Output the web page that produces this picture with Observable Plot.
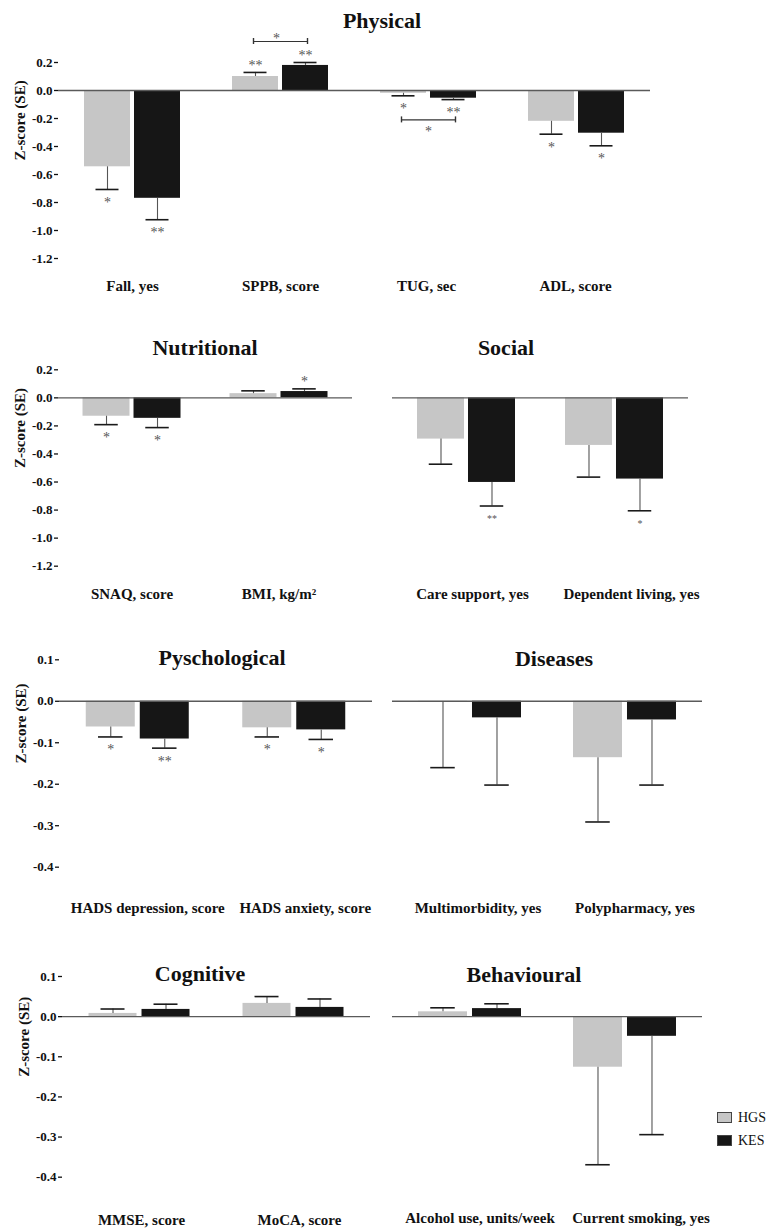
<!DOCTYPE html>
<html>
<head>
<meta charset="utf-8">
<script src="https://cdn.jsdelivr.net/npm/d3@7"></script>
<script src="https://cdn.jsdelivr.net/npm/@observablehq/plot@0.6"></script>
<style>
  body { margin: 0; background: #fff; }
  #root { position: relative; width: 768px; height: 1230px; overflow: hidden;
          font-family: "Liberation Serif", "Times New Roman", serif; color: #111; }
  #root svg { position: absolute; left: 0; }
  #root svg text { font-family: "Liberation Serif", "Times New Roman", serif; }
  .title { position: absolute; font-weight: bold; font-size: 22px; line-height: 22px;
           transform: translate(-50%, -50%); white-space: nowrap; }
  .lg-box { position: absolute; width: 15px; height: 11px; box-sizing: border-box; border: 1px solid #444; }
  .lg-text { position: absolute; font-size: 14px; line-height: 14px; transform: translateY(-50%); white-space: nowrap; }
</style>
</head>
<body>
<div id="root"></div>
<script>
// ---------------- DATA ----------------
const series = ["HGS", "KES"];
const seriesColors = ["#c6c6c6", "#161616"];

const ticksLarge = [-1.2, -1.0, -0.8, -0.6, -0.4, -0.2, 0.0, 0.2];
const ticksSmall = [-0.4, -0.3, -0.2, -0.1, 0.0, 0.1];

// Physical
const physicalCategories = ["Fall, yes", "SPPB, score", "TUG, sec", "ADL, score"];
const physicalHGS   = [-0.545, 0.100, -0.020, -0.220];
const physicalHGSse = [0.162, 0.029, 0.018, 0.092];
const physicalKES   = [-0.770, 0.179, -0.055, -0.305];
const physicalKESse = [0.153, 0.021, 0.010, 0.090];
const physicalHGSsig = ["*", "**", "*", "*"];
const physicalKESsig = ["**", "**", "**", "*"];
const physicalBracketCats = ["SPPB, score", "TUG, sec"];
const physicalBracketY = [0.35, -0.21];
const physicalBracketLabels = ["*", "*"];

// Nutritional
const nutritionalCategories = ["SNAQ, score", "BMI, kg/m\u00B2"];
const nutritionalHGS   = [-0.131, 0.030];
const nutritionalHGSse = [0.060, 0.020];
const nutritionalKES   = [-0.146, 0.045];
const nutritionalKESse = [0.066, 0.019];
const nutritionalHGSsig = ["*", ""];
const nutritionalKESsig = ["*", "*"];

// Social
const socialCategories = ["Care support, yes", "Dependent living, yes"];
const socialHGS   = [-0.294, -0.339];
const socialHGSse = [0.179, 0.226];
const socialKES   = [-0.603, -0.579];
const socialKESse = [0.168, 0.226];
const socialHGSsig = ["", ""];
const socialKESsig = ["**", "*"];

// Pyschological
const psychCategories = ["HADS depression, score", "HADS anxiety, score"];
const psychHGS   = [-0.062, -0.064];
const psychHGSse = [0.024, 0.022];
const psychKES   = [-0.091, -0.069];
const psychKESse = [0.022, 0.023];
const psychHGSsig = ["*", "*"];
const psychKESsig = ["**", "*"];

// Diseases
const diseaseCategories = ["Multimorbidity, yes", "Polypharmacy, yes"];
const diseaseHGS   = [-0.002, -0.136];
const diseaseHGSse = [0.158, 0.155];
const diseaseKES   = [-0.040, -0.045];
const diseaseKESse = [0.162, 0.157];

// Cognitive
const cognitiveCategories = ["MMSE, score", "MoCA, score"];
const cognitiveHGS   = [0.008, 0.033];
const cognitiveHGSse = [0.011, 0.017];
const cognitiveKES   = [0.018, 0.023];
const cognitiveKESse = [0.013, 0.021];

// Behavioural
const behaviouralCategories = ["Alcohol use, units/week", "Current smoking, yes"];
const behaviouralHGS   = [0.012, -0.126];
const behaviouralHGSse = [0.010, 0.243];
const behaviouralKES   = [0.020, -0.049];
const behaviouralKESse = [0.012, 0.245];

// ---------------- LAYOUT ----------------
const panels = [
  {title: "Physical", tx: 382, ty: 21, svgTop: 0, fTop: 62, fBot: 258, left: 58, right: 650, bar: 46, gap: 4,
   axis: true, xPad: 22, labelDx: [0, 0, -2, -1], domain: [-1.2, 0.2], ticks: ticksLarge, sigSize: 14,
   cats: physicalCategories, hgs: physicalHGS, hgsSE: physicalHGSse, kes: physicalKES, kesSE: physicalKESse,
   hgsSig: physicalHGSsig, kesSig: physicalKESsig,
   brackets: {cats: physicalBracketCats, y: physicalBracketY, labels: physicalBracketLabels}},
  {title: "Nutritional", tx: 205, ty: 348, svgTop: 320, fTop: 369.3, fBot: 565.7, left: 58, right: 352, bar: 47, gap: 4,
   axis: true, xPad: 22, labelDx: [0, 0], domain: [-1.2, 0.2], ticks: ticksLarge, sigSize: 14,
   cats: nutritionalCategories, hgs: nutritionalHGS, hgsSE: nutritionalHGSse, kes: nutritionalKES, kesSE: nutritionalKESse,
   hgsSig: nutritionalHGSsig, kesSig: nutritionalKESsig},
  {title: "Social", tx: 506, ty: 348, svgTop: 320, fTop: 369.3, fBot: 565.7, left: 392, right: 688, bar: 47, gap: 4,
   axis: false, xPad: 22, labelDx: [6, 17], domain: [-1.2, 0.2], ticks: ticksLarge, sigSize: 10,
   cats: socialCategories, hgs: socialHGS, hgsSE: socialHGSse, kes: socialKES, kesSE: socialKESse,
   hgsSig: socialHGSsig, kesSig: socialKESsig},
  {title: "Pyschological", tx: 222, ty: 658, svgTop: 630, fTop: 659.3, fBot: 866.7, left: 59, right: 372, bar: 49, gap: 5,
   axis: true, xPad: 35, labelDx: [10, 11], domain: [-0.4, 0.1], ticks: ticksSmall, sigSize: 14,
   cats: psychCategories, hgs: psychHGS, hgsSE: psychHGSse, kes: psychKES, kesSE: psychKESse,
   hgsSig: psychHGSsig, kesSig: psychKESsig},
  {title: "Diseases", tx: 554, ty: 659, svgTop: 630, fTop: 659.3, fBot: 866.7, left: 392, right: 702, bar: 49, gap: 5,
   axis: false, xPad: 35, labelDx: [8, 10], domain: [-0.4, 0.1], ticks: ticksSmall, sigSize: 14,
   cats: diseaseCategories, hgs: diseaseHGS, hgsSE: diseaseHGSse, kes: diseaseKES, kesSE: diseaseKESse},
  {title: "Cognitive", tx: 200, ty: 974, svgTop: 935, fTop: 976, fBot: 1176.7, left: 62, right: 370, bar: 48, gap: 5,
   axis: true, xPad: 37, labelDx: [2, 6], domain: [-0.4, 0.1], ticks: ticksSmall, sigSize: 14,
   cats: cognitiveCategories, hgs: cognitiveHGS, hgsSE: cognitiveHGSse, kes: cognitiveKES, kesSE: cognitiveKESse},
  {title: "Behavioural", tx: 524, ty: 975, svgTop: 935, fTop: 976, fBot: 1176.7, left: 392, right: 702, bar: 49, gap: 5,
   axis: false, xPad: 35, labelDx: [10, 16], domain: [-0.4, 0.1], ticks: ticksSmall, sigSize: 14,
   cats: behaviouralCategories, hgs: behaviouralHGS, hgsSE: behaviouralHGSse, kes: behaviouralKES, kesSE: behaviouralKESse}
];

const W = 768;
const FONT = '"Liberation Serif", "Times New Roman", serif';
const root = document.getElementById("root");

function buildRows(p) {
  const out = [];
  p.cats.forEach((c, i) => {
    out.push({cat: c, series: "HGS", value: p.hgs[i], se: p.hgsSE[i], sig: p.hgsSig ? p.hgsSig[i] : ""});
    out.push({cat: c, series: "KES", value: p.kes[i], se: p.kesSE[i], sig: p.kesSig ? p.kesSig[i] : ""});
  });
  out.forEach(d => { d.end = d.value + (d.value < 0 ? -1 : 1) * d.se; });
  return out;
}

function drawPanel(p) {
  const data = buildRows(p);
  const step = (p.right - p.left) / p.cats.length;
  const off = p.gap / 2 + p.bar / 2;
  const capW = p.bar * 0.5;
  const marginBottom = 52;
  const height = p.fBot - p.svgTop + marginBottom;
  const pxPerUnit = (p.fBot - p.fTop) / (p.domain[1] - p.domain[0]);
  const marks = [];

  series.forEach((s, k) => {
    const dx = (k === 0 ? -1 : 1) * off;
    const sub = data.filter(d => d.series === s);
    marks.push(Plot.barY(sub, {
      x: "cat", y: "value", fill: seriesColors[k],
      insetLeft: step / 2 + dx - p.bar / 2, insetRight: step / 2 - dx - p.bar / 2
    }));
  });
  marks.push(Plot.ruleY([0], {stroke: "#5a5a5a", strokeWidth: 1.4}));
  series.forEach((s, k) => {
    const dx = (k === 0 ? -1 : 1) * off;
    const sub = data.filter(d => d.series === s);
    marks.push(Plot.ruleX(sub, {x: "cat", y1: "value", y2: "end", dx, stroke: "#555", strokeWidth: 1.1}));
    marks.push(Plot.ruleY(sub, {
      x1: "cat", x2: "cat", y: "end", stroke: "#1a1a1a", strokeWidth: 1.6,
      insetLeft: step / 2 + dx - capW / 2, insetRight: step / 2 - dx - capW / 2
    }));
    const sigs = sub.filter(d => d.sig);
    marks.push(Plot.text(sigs.filter(d => d.value < 0), {
      x: "cat", y: "end", text: "sig", dx, dy: 13, fill: "#555", fontSize: p.sigSize, fontWeight: "normal", fontFamily: FONT
    }));
    marks.push(Plot.text(sigs.filter(d => d.value >= 0), {
      x: "cat", y: "end", text: "sig", dx, dy: -7, fill: "#555", fontSize: p.sigSize, fontWeight: "normal", fontFamily: FONT
    }));
  });

  if (p.brackets) {
    const b = p.brackets.cats.map((c, i) => ({cat: c, y: p.brackets.y[i], label: p.brackets.labels[i]}));
    const half = off + 2;
    const dy = 3 / pxPerUnit;
    marks.push(Plot.ruleY(b, {x1: "cat", x2: "cat", y: "y", stroke: "#333", strokeWidth: 1.2,
      insetLeft: step / 2 - half, insetRight: step / 2 - half}));
    marks.push(Plot.ruleX(b, {x: "cat", y1: d => d.y - dy, y2: d => d.y + dy, dx: -half, stroke: "#333", strokeWidth: 1.4}));
    marks.push(Plot.ruleX(b, {x: "cat", y1: d => d.y - dy, y2: d => d.y + dy, dx: half, stroke: "#333", strokeWidth: 1.4}));
    marks.push(Plot.text(b.filter(d => d.y > 0), {x: "cat", y: "y", text: "label", dx: -4, dy: -3, fill: "#555", fontSize: 14, fontWeight: "normal", fontFamily: FONT}));
    marks.push(Plot.text(b.filter(d => d.y < 0), {x: "cat", y: "y", text: "label", dy: 12, fill: "#555", fontSize: 14, fontWeight: "normal", fontFamily: FONT}));
  }

  if (p.axis) {
    marks.push(Plot.axisY({ticks: p.ticks, tickFormat: d => d.toFixed(1), tickSize: 4, tickPadding: 2,
      label: null, line: true, fontSize: 13, strokeWidth: 1.3, fontFamily: FONT}));
    marks.push(Plot.text(["Z-score (SE)"], {text: d => d, frameAnchor: "left", dx: -38, rotate: -90,
      fontSize: 15, fontWeight: "bold", fontFamily: FONT}));
  }
  p.cats.forEach((c, i) => {
    marks.push(Plot.axisX({ticks: [c], dx: p.labelDx[i], tickSize: 0, tickPadding: p.xPad,
      fontSize: 15, label: null, fontFamily: FONT}));
  });

  const svg = Plot.plot({
    width: W, height,
    marginTop: p.fTop - p.svgTop, marginBottom, marginLeft: p.left, marginRight: W - p.right,
    x: {domain: p.cats, padding: 0, round: false, axis: null},
    y: {domain: p.domain, label: null, axis: null},
    style: {fontFamily: FONT, fontSize: "13px", fontWeight: "bold",
            background: "none", color: "#111", overflow: "visible"},
    marks
  });
  svg.style.top = p.svgTop + "px";
  svg.style.position = "absolute";
  svg.style.left = "0px";
  root.appendChild(svg);

  const t = document.createElement("div");
  t.className = "title";
  t.textContent = p.title;
  t.style.left = p.tx + "px";
  t.style.top = p.ty + "px";
  root.appendChild(t);
}

panels.forEach(drawPanel);

// legend
series.forEach((s, k) => {
  const box = document.createElement("div");
  box.className = "lg-box";
  box.style.left = "717px";
  box.style.top = (1112 + k * 23) + "px";
  box.style.background = seriesColors[k];
  root.appendChild(box);
  const tx = document.createElement("div");
  tx.className = "lg-text";
  tx.textContent = s;
  tx.style.left = "738px";
  tx.style.top = (1118 + k * 23) + "px";
  root.appendChild(tx);
});
</script>
</body>
</html>
